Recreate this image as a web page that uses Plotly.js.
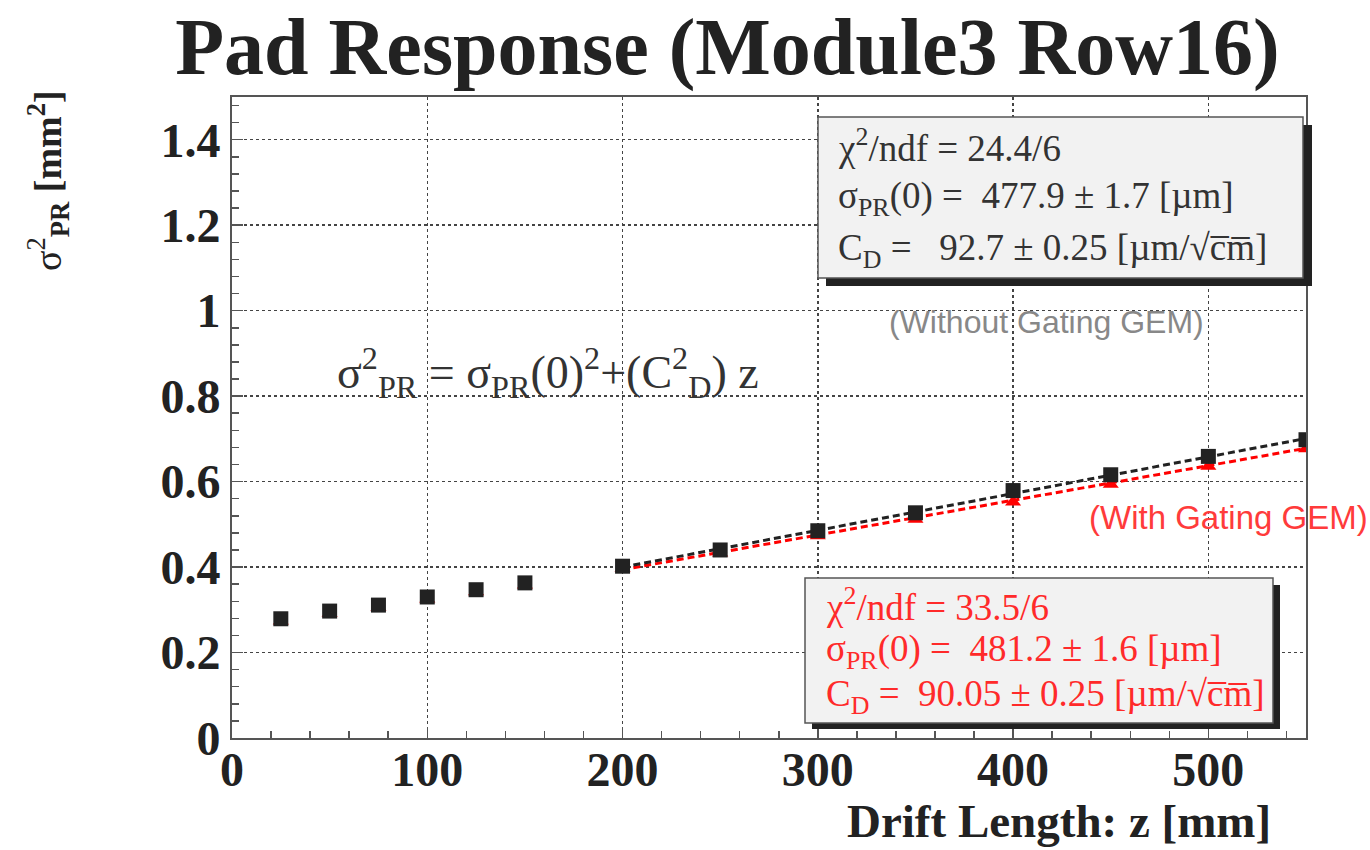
<!DOCTYPE html>
<html>
<head>
<meta charset="utf-8">
<script src="https://cdn.plot.ly/plotly-3.0.1.min.js"></script>
<style>html,body{margin:0;padding:0;background:#fff;}#chart{width:1370px;height:850px;}</style>
</head>
<body>
<div id="chart"></div>
<script>
// ---- data ----
const driftLength = [25, 50, 75, 100, 125, 150, 200, 250, 300, 350, 400, 450, 500, 550];
const sigmaSqNoGate = [0.279, 0.297, 0.311, 0.330, 0.347, 0.363, 0.402, 0.440, 0.485, 0.527, 0.579, 0.616, 0.659, 0.698];
const sigmaSqGate   = [0.274, 0.292, 0.306, 0.325, 0.342, 0.358, 0.397, 0.433, 0.473, 0.512, 0.552, 0.594, 0.636, 0.677];
const fitRange = [200, 550];
const fitNoGate = [0.400, 0.701];
const fitGate = [0.394, 0.678];
const xTicks = [0, 100, 200, 300, 400, 500];
const yTicks = [0, 0.2, 0.4, 0.6, 0.8, 1, 1.2, 1.4];
const sqrtCm = "√c\u0305m\u0305";
const statsNoGate = ["χ<sup>2</sup>/ndf = 24.4/6", "σ<sub>PR</sub>(0) =  477.9 ± 1.7 [µm]", "C<sub>D</sub> =   92.7 ± 0.25 [µm/" + sqrtCm + "]"];
const statsGate = ["χ<sup>2</sup>/ndf = 33.5/6", "σ<sub>PR</sub>(0) =  481.2 ± 1.6 [µm]", "C<sub>D</sub> =  90.05 ± 0.25 [µm/" + sqrtCm + "]"];

// ---- layout helpers (pixel -> paper) ----
const L = 232, R = 1306, T = 97, B = 738;
const px = x => (x - L) / (R - L);
const py = y => (B - y) / (B - T);

const serif = "Liberation Serif, Times New Roman, serif";
const sans = "Liberation Sans, Arial, sans-serif";
const dark = "#222";
const red = "#ff0000";

const traces = [
  {x: fitRange, y: fitGate, mode: "lines", line: {color: red, width: 3, dash: "7px,4px"}, hoverinfo: "skip"},
  {x: fitRange, y: fitNoGate, mode: "lines", line: {color: dark, width: 3, dash: "7px,4px"}, hoverinfo: "skip"},
  {x: driftLength, y: sigmaSqGate, mode: "markers", marker: {symbol: "triangle-up", color: red, size: 14}},
  {x: driftLength, y: sigmaSqNoGate, mode: "markers", marker: {symbol: "square", color: dark, size: 15}}
];

const shapes = [
  {type: "rect", xref: "paper", yref: "paper", x0: px(826), x1: px(1312), y0: py(286), y1: py(125), fillcolor: dark, line: {width: 0}, layer: "above"},
  {type: "rect", xref: "paper", yref: "paper", x0: px(818), x1: px(1303), y0: py(278), y1: py(117), fillcolor: "#f2f2f2", line: {color: "#555", width: 1.5}, layer: "above"},
  {type: "rect", xref: "paper", yref: "paper", x0: px(812), x1: px(1280), y0: py(729), y1: py(585), fillcolor: dark, line: {width: 0}, layer: "above"},
  {type: "rect", xref: "paper", yref: "paper", x0: px(805), x1: px(1273), y0: py(723), y1: py(578), fillcolor: "#f2f2f2", line: {color: "#555", width: 1.5}, layer: "above"}
];

const ann = [];
const box1Y = [146, 198, 250];
statsNoGate.forEach((t, i) => ann.push({xref: "paper", yref: "paper", x: px(836), y: py(box1Y[i]), xanchor: "left", yanchor: "middle", showarrow: false, text: t, font: {family: serif, size: 37, color: "#333"}}));
const box2Y = [604, 651, 696];
statsGate.forEach((t, i) => ann.push({xref: "paper", yref: "paper", x: px(824), y: py(box2Y[i]), xanchor: "left", yanchor: "middle", showarrow: false, text: t, font: {family: serif, size: 37, color: "#ff2a2a"}}));
ann.push({xref: "paper", yref: "paper", x: px(1046), y: py(322), xanchor: "center", yanchor: "middle", showarrow: false, text: "(Without Gating GEM)", font: {family: sans, size: 32, color: "#888"}});
ann.push({xref: "paper", yref: "paper", x: px(1228), y: py(517), xanchor: "center", yanchor: "middle", showarrow: false, text: "(With Gating GEM)", font: {family: sans, size: 33, color: "#ff3b3b"}});
ann.push({xref: "paper", yref: "paper", x: px(335), y: py(372), xanchor: "left", yanchor: "middle", showarrow: false, text: "σ<sup>2</sup><sub>PR</sub> = σ<sub>PR</sub>(0)<sup>2</sup>+(C<sup>2</sup><sub>D</sub>) z", font: {family: serif, size: 46, color: "#333"}});
ann.push({xref: "paper", yref: "paper", x: px(1273), y: py(849), xanchor: "right", yanchor: "bottom", showarrow: false, text: "<b>Drift Length: z [mm]</b>", font: {family: serif, size: 47, color: dark}});
ann.push({xref: "paper", yref: "paper", x: px(48), y: py(180), xanchor: "center", yanchor: "middle", textangle: -90, showarrow: false, text: "σ<sup>2</sup><sub><b>PR</b></sub> <b>[mm<sup>2</sup>]</b>", font: {family: serif, size: 38, color: dark}});

const axisCommon = {
  showline: true, mirror: true, linecolor: "#555", linewidth: 2,
  ticks: "inside", ticklen: 11, tickwidth: 1.5, tickcolor: "#555",
  showgrid: true, gridcolor: "#444", gridwidth: 1.5, griddash: "dot",
  zeroline: false,
  tickfont: {family: serif, size: 48, color: dark, weight: "bold"}
};

const layout = {
  width: 1370, height: 850,
  paper_bgcolor: "#fff", plot_bgcolor: "#fff",
  margin: {l: L, r: 1370 - R, t: T, b: 850 - B},
  showlegend: false,
  title: {text: "<b>Pad Response (Module3 Row16)</b>", font: {family: serif, size: 80, color: dark}, x: 0.531, xanchor: "center", yref: "container", y: 1 - 46 / 850, yanchor: "middle"},
  xaxis: Object.assign({}, axisCommon, {range: [0, 550], tickvals: xTicks, ticktext: xTicks.map(String), ticklabelstandoff: -12,
    minor: {dtick: 20, tick0: 0, ticks: "inside", ticklen: 7, tickcolor: "#555", tickwidth: 1.5, showgrid: false}}),
  yaxis: Object.assign({}, axisCommon, {range: [0, 1.5], tickvals: yTicks, ticktext: yTicks.map(String),
    minor: {dtick: 0.04, tick0: 0, ticks: "inside", ticklen: 7, tickcolor: "#555", tickwidth: 1.5, showgrid: false}}),
  shapes: shapes,
  annotations: ann
};

Plotly.newPlot("chart", traces, layout, {staticPlot: true});
</script>
</body>
</html>
